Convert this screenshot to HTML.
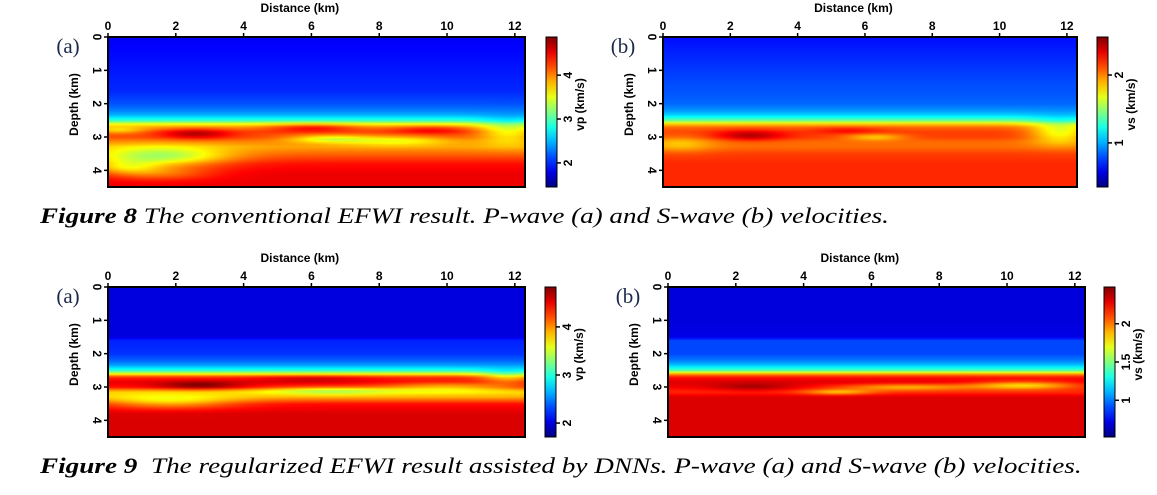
<!DOCTYPE html>
<html><head><meta charset="utf-8">
<style>
html,body{margin:0;padding:0;background:#fff;}
#wrap{position:relative;width:1157px;height:495px;overflow:hidden;background:#fff;}
canvas{position:absolute;image-rendering:auto;}
svg{position:absolute;left:0;top:0;}
.cap{position:absolute;font-family:"Liberation Serif",serif;font-style:italic;font-size:22px;color:#000;white-space:nowrap;transform-origin:0 0;}
.cap b{font-weight:bold;}
</style></head>
<body>
<div id="wrap">
<svg id="svg" width="1157" height="495"></svg>
<div class="cap" style="left:40px;top:203px;transform:scaleX(1.23)"><b>Figure 8</b> The conventional EFWI result. P-wave (a) and S-wave (b) velocities.</div>
<div class="cap" style="left:40px;top:453px;transform:scaleX(1.235)"><b>Figure 9</b>&nbsp; The regularized EFWI result assisted by DNNs. P-wave (a) and S-wave (b) velocities.</div>
</div>
<script>
// depth nodes (km)
const depthNodes = [0,0.5,1,1.5,1.6,2,2.2,2.35,2.5,2.6,2.7,2.85,3.0,3.15,3.3,3.5,3.8,4.1,4.5];
// velocity profiles (km/s) at depth nodes
const vpConv = [1.85,1.9,1.95,2.0,2.0,2.15,2.3,2.5,2.9,3.5,3.9,4.2,4.2,4.0,3.9,4.1,4.4,4.5,4.5];
const vsConv = [0.65,0.7,0.75,0.8,0.8,0.85,0.95,1.1,1.4,1.8,2.05,2.15,2.15,2.05,2.05,2.15,2.2,2.2,2.2];
const vpDnn  = [2.0,2.0,2.0,2.0,2.2,2.25,2.4,2.6,3.0,3.6,4.3,4.5,4.4,3.8,3.9,4.4,4.55,4.55,4.55];
const vsDnn  = [0.7,0.7,0.7,0.72,0.9,0.9,1.0,1.15,1.4,1.9,2.2,2.3,2.25,2.15,2.3,2.3,2.3,2.3,2.3];
// lateral anomalies: [x km, z km, rx km, rz km, dv]
const anomVpConv = [[2.6,2.9,1.0,0.15,0.5],[6,2.72,1.3,0.12,0.45],[9.5,2.78,1.2,0.12,0.35],[1.5,3.6,2.0,0.3,-0.9],[0.5,3.9,1.0,0.2,-0.5],[6.5,3.05,1.2,0.12,-0.6],[8.5,3.1,1.6,0.15,-0.5],[11.8,2.85,0.9,0.35,-0.6],[0.3,2.8,0.8,0.1,-0.4],[1.5,4.1,1.6,0.2,-0.4]];
const anomVsConv = [[2.6,2.95,1.0,0.15,0.3],[5.5,2.8,1.0,0.1,0.15],[6.3,3.0,0.9,0.1,-0.3],[11.8,2.85,0.9,0.35,-0.45],[0.5,3.2,1.0,0.25,-0.2]];
const anomVpDnn = [[2.7,2.95,1.2,0.12,0.4],[6,2.75,1.6,0.1,0.2],[1.8,3.45,2.0,0.2,-0.5],[6.5,3.1,2.0,0.12,-0.5],[10,3.0,2.0,0.15,-0.5],[11.8,2.7,0.8,0.2,-0.5]];
const anomVsDnn = [[2.5,3.0,1.2,0.12,0.15],[7,3.0,2.0,0.1,-0.35],[10.5,2.95,1.6,0.12,-0.45],[5,3.15,1.0,0.08,-0.3]];
// colorbar ticks
const ticksVpA = [2,3,4];
const ticksVsB = [1,2];
const ticksVpA2 = [2,3,4];
const ticksVsB2 = [1,1.5,2];
const xTicks = [0,2,4,6,8,10,12];
const zTicks = [0,1,2,3,4];

const panels = [
 {name:'fig8-a',letter:'(a)',x0:108,y0:37,w:417,h:150,cbx:546,prof:vpConv,anom:anomVpConv,vmin:1.45,vmax:4.87,ticks:ticksVpA,lab:'vp (km/s)'},
 {name:'fig8-b',letter:'(b)',x0:663,y0:37,w:414,h:150,cbx:1097,prof:vsConv,anom:anomVsConv,vmin:0.35,vmax:2.56,ticks:ticksVsB,lab:'vs (km/s)'},
 {name:'fig9-a',letter:'(a)',x0:108,y0:287,w:417,h:150,cbx:545,prof:vpDnn,anom:anomVpDnn,vmin:1.71,vmax:4.83,ticks:ticksVpA2,lab:'vp (km/s)'},
 {name:'fig9-b',letter:'(b)',x0:668,y0:287,w:417,h:150,cbx:1104,prof:vsDnn,anom:anomVsDnn,vmin:0.52,vmax:2.48,ticks:ticksVsB2,lab:'vs (km/s)'}
];
const XMAX=12.3, ZMAX=4.5;
function jet(t){t=Math.max(0,Math.min(1,t));
 const r=Math.max(0,Math.min(1,1.5-Math.abs(4*t-3)));
 const g=Math.max(0,Math.min(1,1.5-Math.abs(4*t-2)));
 const b=Math.max(0,Math.min(1,1.5-Math.abs(4*t-1)));
 return 'rgb('+Math.round(r*255)+','+Math.round(g*255)+','+Math.round(b*255)+')';}
function interp(p,z){for(let i=0;i<depthNodes.length-1;i++){if(z<=depthNodes[i+1]){const t=(z-depthNodes[i])/(depthNodes[i+1]-depthNodes[i]);return p[i]+t*(p[i+1]-p[i]);}}return p[p.length-1];}
const svg=document.getElementById('svg');const wrap=document.getElementById('wrap');
const NS='http://www.w3.org/2000/svg';
function mk(tag,attrs,parent){const e=document.createElementNS(NS,tag);for(const k in attrs)e.setAttribute(k,attrs[k]);(parent||svg).appendChild(e);return e;}
function txt(s,x,y,opt,parent){const t=mk('text',Object.assign({x:x,y:y,'font-family':'Liberation Sans, sans-serif','font-weight':'bold','font-size':12,'text-anchor':'middle'},opt||{}),parent);t.textContent=s;return t;}
panels.forEach(p=>{
 const g=mk('g',{});
 
 
 const NX=90,NZ=80;
 const c=document.createElement('canvas');c.width=NX;c.height=NZ;
 c.style.left=p.x0+'px';c.style.top=p.y0+'px';c.style.width=p.w+'px';c.style.height=p.h+'px';
 
 
 wrap.insertBefore(c,svg);
 const ctx=c.getContext('2d');
 for(let i=0;i<NX;i++)for(let j=0;j<NZ;j++){
  const x=(i+0.5)/NX*XMAX,z=(j+0.5)/NZ*ZMAX;
  let v=interp(p.prof,z);
  p.anom.forEach(a=>{const dx=(x-a[0])/a[2],dz=(z-a[1])/a[3];v+=a[4]*Math.exp(-(dx*dx+dz*dz));});
  ctx.fillStyle=jet((v-p.vmin)/(p.vmax-p.vmin));ctx.fillRect(i,j,1,1);
 }
 const fr=mk('rect',{x:p.x0,y:p.y0,width:p.w,height:p.h,fill:'none',stroke:'#000','stroke-width':2},g);
 
 
 const sx=v=>p.x0+v/XMAX*p.w, sz=v=>p.y0+v/ZMAX*p.h;
 xTicks.forEach(t=>{mk('line',{x1:sx(t),x2:sx(t),y1:p.y0,y2:p.y0-4,stroke:'#000','stroke-width':1.5},g);
  const l=txt(String(t),sx(t),p.y0-7,{},g);
  
  });
 const xt=txt('Distance (km)',p.x0+p.w*0.46,p.y0-25,{},g);
 
 
 zTicks.forEach(t=>{mk('line',{x1:p.x0,x2:p.x0-4,y1:sz(t),y2:sz(t),stroke:'#000','stroke-width':1.5},g);
  const l=txt(String(t),p.x0-7,sz(t),{transform:'rotate(90 '+(p.x0-11)+' '+sz(t)+')',x:p.x0-11,y:sz(t)+4},g);
  
  });
 const cx=p.x0-30,cy=p.y0+p.h*0.45;
 const yt=txt('Depth (km)',cx,cy,{transform:'rotate(-90 '+cx+' '+cy+')'},g);
 
 
 const lt=txt(p.letter,p.x0-40,p.y0+16,{'font-family':'Liberation Serif, serif','font-weight':'normal','font-size':21,fill:'#1a2a4a'},g);
 
 
 const gid='grad-'+p.name;const defs=mk('defs',{},g);
 const lg=mk('linearGradient',{id:gid,x1:0,y1:1,x2:0,y2:0},defs);
 for(let k=0;k<=10;k++)mk('stop',{offset:k/10,'stop-color':jet(k/10)},lg);
 const cb=mk('rect',{x:p.cbx,y:p.y0,width:11,height:p.h,fill:'url(#'+gid+')',stroke:'#000','stroke-width':1},g);
 
 
 const cyv=v=>p.y0+p.h-(v-p.vmin)/(p.vmax-p.vmin)*p.h;
 p.ticks.forEach(t=>{const y=cyv(t);mk('line',{x1:p.cbx+11,x2:p.cbx+15,y1:y,y2:y,stroke:'#000','stroke-width':1.5},g);
  const l=txt(String(t),p.cbx+20,y,{transform:'rotate(-90 '+(p.cbx+22)+' '+y+')',x:p.cbx+22,y:y+4},g);
  
  });
 const bx=p.cbx+38,by=p.y0+p.h*0.45;
 const bt=txt(p.lab,bx,by,{transform:'rotate(-90 '+bx+' '+by+')'},g);
 
 
});
</script>
</body></html>
